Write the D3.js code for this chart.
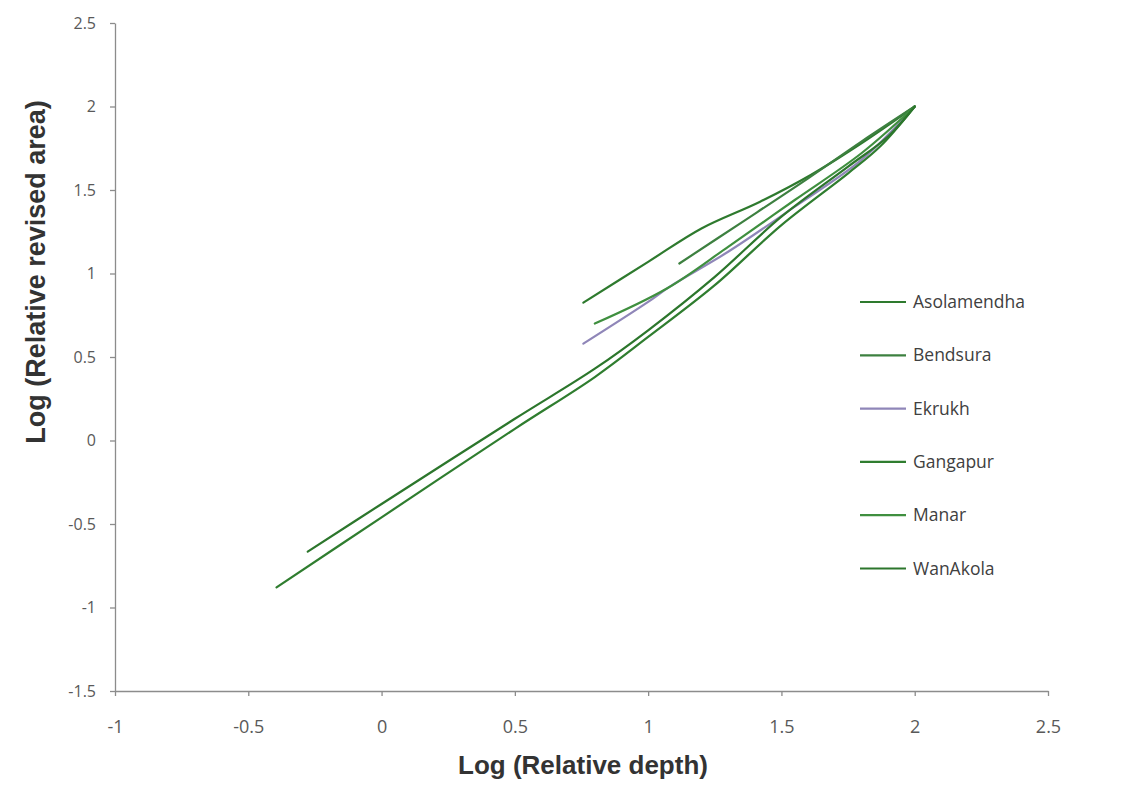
<!DOCTYPE html>
<html>
<head>
<meta charset="utf-8">
<script src="https://cdn.jsdelivr.net/npm/d3@7"></script>
<style>
  html, body { margin: 0; padding: 0; background: #fff; }
  svg { display: block; }
</style>
</head>
<body>
<svg id="chart" width="1121" height="802"></svg>
<script>
const seriesNames = ["Asolamendha", "Bendsura", "Ekrukh", "Gangapur", "Manar", "WanAkola"];
const seriesColors = ["#2e7a2e", "#3d8040", "#8f86b8", "#2f7d2f", "#3f8f3f", "#2c762c"];

const asolamendha = [[0.757,0.826],[1.0,1.07],[1.2,1.27],[1.42,1.43],[1.61,1.59],[1.8,1.78],[2,2]];
const bendsura    = [[1.117,1.06],[1.35,1.305],[1.6,1.57],[1.8,1.79],[2,2]];
const ekrukh      = [[0.757,0.58],[1.0,0.83],[1.08,0.92],[1.3,1.13],[1.55,1.4],[1.8,1.68],[2,2]];
const gangapur    = [[-0.394,-0.88],[0,-0.46],[0.5,0.07],[0.8,0.38],[1.0,0.62],[1.25,0.93],[1.5,1.29],[1.75,1.6],[1.87,1.76],[2,2]];
const manar       = [[0.8,0.70],[1.07,0.91],[1.3,1.16],[1.55,1.44],[1.8,1.72],[2,2]];
const wanakola    = [[-0.277,-0.665],[0,-0.38],[0.5,0.13],[0.8,0.43],[1.0,0.66],[1.25,0.98],[1.5,1.34],[1.75,1.64],[1.9,1.82],[2,2]];

const seriesData = [asolamendha, bendsura, ekrukh, gangapur, manar, wanakola];

const xTicks = [-1, -0.5, 0, 0.5, 1, 1.5, 2, 2.5];
const yTicks = [-1.5, -1, -0.5, 0, 0.5, 1, 1.5, 2, 2.5];

const svg = d3.select("#chart");
const mLeft = 115, mRight = 1048, mTop = 23, mBottom = 691;

const x = d3.scaleLinear().domain([-1, 2.5]).range([mLeft, mRight]);
const y = d3.scaleLinear().domain([-1.5, 2.5]).range([mBottom, mTop]);

const axisColor = "#8c8c8c";
const fmt = d => String(d);

// X axis
const gx = svg.append("g").attr("transform", `translate(0,${mBottom})`)
  .call(d3.axisBottom(x).tickValues(xTicks).tickFormat(fmt).tickSize(5).tickSizeOuter(0));
gx.select(".domain").attr("stroke", axisColor).attr("stroke-width", 1.3);
gx.selectAll(".tick line").attr("stroke", axisColor).attr("stroke-width", 1.3);
gx.selectAll(".tick text")
  .attr("y", 42).attr("dy", null)
  .attr("fill", "#595959")
  .style("font-family", "'Liberation Sans Narrow', 'Open Sans', sans-serif")
  .style("font-size", "18px");

// Y axis
const gy = svg.append("g").attr("transform", `translate(${mLeft},0)`)
  .call(d3.axisLeft(y).tickValues(yTicks).tickFormat(fmt).tickSize(5).tickSizeOuter(0));
gy.select(".domain").attr("stroke", axisColor).attr("stroke-width", 1.3);
gy.selectAll(".tick line").attr("stroke", axisColor).attr("stroke-width", 1.3);
gy.selectAll(".tick text")
  .attr("x", -19)
  .attr("fill", "#595959")
  .style("font-family", "'Open Sans', 'Liberation Sans', sans-serif")
  .style("font-size", "16px");

// Axis titles
svg.append("text")
  .attr("x", 583).attr("y", 774)
  .attr("text-anchor", "middle")
  .attr("fill", "#333")
  .style("font-family", "'Liberation Sans', Arial, sans-serif")
  .style("font-weight", "bold").style("font-size", "26px")
  .text("Log (Relative depth)");

svg.append("text")
  .attr("transform", "translate(45,272) rotate(-90)")
  .attr("text-anchor", "middle")
  .attr("fill", "#333")
  .style("font-family", "'Liberation Sans', Arial, sans-serif")
  .style("font-weight", "bold").style("font-size", "27px")
  .text("Log (Relative revised area)");

// Lines
const line = d3.line()
  .x(d => x(d[0])).y(d => y(d[1]))
  .curve(d3.curveCatmullRom.alpha(0.5));

seriesData.forEach((data, i) => {
  svg.append("path")
    .datum(data)
    .attr("fill", "none")
    .attr("stroke", seriesColors[i])
    .attr("stroke-width", 2.2)
    .attr("stroke-linecap", "round")
    .attr("d", line);
});

// Legend
const legend = svg.append("g").attr("transform", "translate(860,302)");
seriesNames.forEach((name, i) => {
  const g = legend.append("g").attr("transform", `translate(0,${i * 53.3})`);
  g.append("line").attr("x1", 0).attr("x2", 46).attr("y1", 0).attr("y2", 0)
    .attr("stroke", seriesColors[i]).attr("stroke-width", 2.2);
  g.append("text").attr("x", 53).attr("y", 0).attr("dy", "0.35em")
    .attr("fill", "#404040")
    .style("font-family", "'Open Sans', 'Liberation Sans', sans-serif")
    .style("font-size", "17.5px")
    .text(name);
});
</script>
</body>
</html>
